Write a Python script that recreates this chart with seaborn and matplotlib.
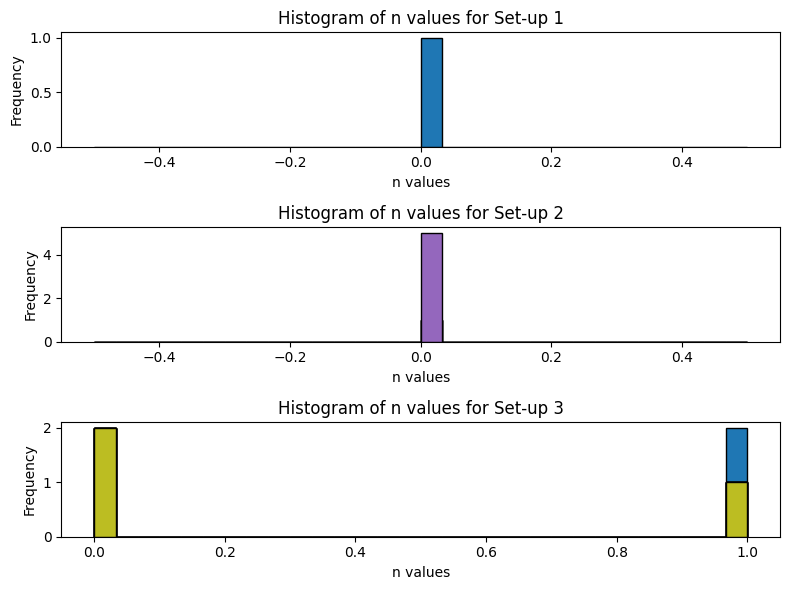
import matplotlib

matplotlib.use("Agg")
import matplotlib.pyplot as plt
import seaborn as sns

# n values recorded in each run, per set-up (one histogram per run)
setup1_runs = [
    [0],
]
setup2_runs = [
    [0],
    [0],
    [0],
    [0],
    [0, 0, 0, 0, 0],
]
setup3_runs = [
    [0, 0, 1, 1],
    [0, 0, 1],
    [0, 0, 1],
    [0, 0, 1],
    [0, 0, 1],
    [0, 0, 1],
    [0, 0, 1],
    [0, 0, 1],
    [0, 0, 1],
]
setup_names = ["Set-up 1", "Set-up 2", "Set-up 3"]
n_bins = 30


def plot_setup(ax, runs, name):
    colors = sns.color_palette("tab10")
    for i, values in enumerate(runs):
        sns.histplot(
            x=values,
            bins=n_bins,
            ax=ax,
            color=colors[i % len(colors)],
            edgecolor="black",
            linewidth=1,
            alpha=1,
        )
    ax.set_title(f"Histogram of n values for {name}")
    ax.set_xlabel("n values")
    ax.set_ylabel("Frequency")


fig, axes = plt.subplots(3, 1, figsize=(8, 6))
for ax, runs, name in zip(axes, [setup1_runs, setup2_runs, setup3_runs], setup_names):
    plot_setup(ax, runs, name)

plt.tight_layout()
plt.savefig("out.png", dpi=100, bbox_inches="tight")
